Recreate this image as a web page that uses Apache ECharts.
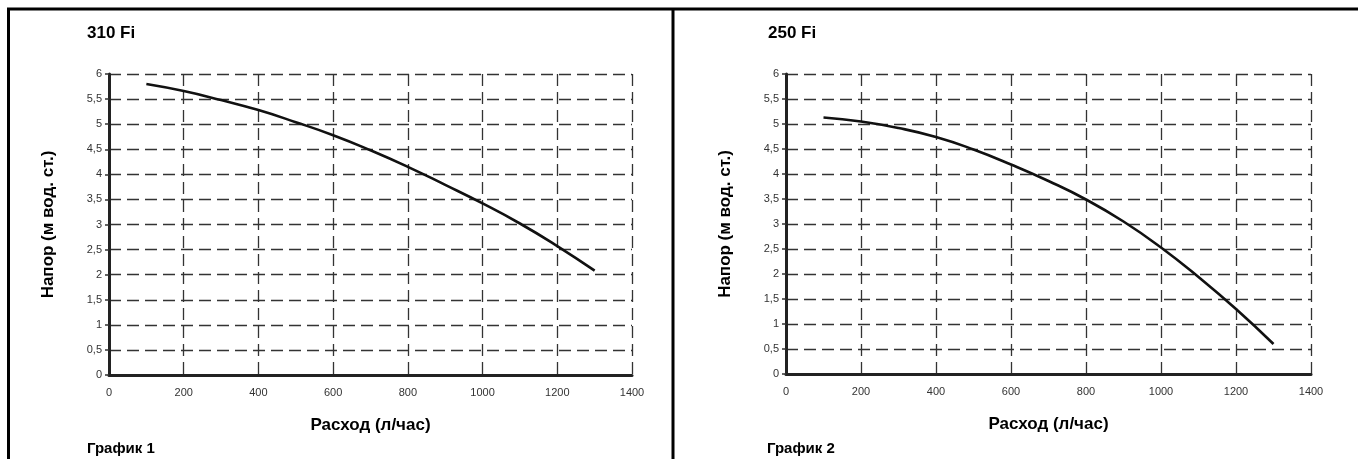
<!DOCTYPE html>
<html>
<head>
<meta charset="utf-8">
<script src="https://cdn.jsdelivr.net/npm/echarts@6/dist/echarts.min.js"></script>
<style>
  html, body { margin: 0; padding: 0; background: #fff; }
  #chart { width: 1358px; height: 459px; }
</style>
</head>
<body>
<div id="chart"></div>
<script>
// расход, л/час
var flow = [100, 200, 300, 400, 500, 600, 700, 800, 900, 1000, 1100, 1200, 1300]
// напор, м вод. ст.
var head310 = [5.8, 5.66, 5.48, 5.28, 5.04, 4.78, 4.48, 4.15, 3.79, 3.42, 3.02, 2.57, 2.08]
var head250 = [5.13, 5.05, 4.92, 4.74, 4.49, 4.19, 3.86, 3.49, 3.05, 2.53, 1.94, 1.3, 0.6]

var titles = ['310 Fi', '250 Fi']
var captions = ['График 1', 'График 2']
var xName = 'Расход (л/час)'
var yName = 'Напор (м вод. ст.)'

var FONT = '"Liberation Sans", Arial, sans-serif'

function pairs (xs, ys) {
  return xs.map(function (x, i) { return [x, ys[i]] })
}

function xAxisFor (idx) {
  return {
    type: 'value',
    gridIndex: idx,
    min: 0,
    max: 1400,
    interval: 200,
    name: xName,
    nameLocation: 'middle',
    nameGap: 42,
    nameTextStyle: { fontFamily: FONT, fontWeight: 'bold', fontSize: 17, color: '#000' },
    axisLine: { lineStyle: { color: '#222', width: 3 } },
    axisTick: { show: false },
    axisLabel: {
      fontFamily: FONT,
      fontSize: 11,
      color: '#333',
      margin: 12,
      formatter: function (v) { return String(v) }
    },
    splitLine: { lineStyle: { color: '#333', width: 1.3, type: [12, 6] } }
  }
}

function yAxisFor (idx) {
  return {
    type: 'value',
    gridIndex: idx,
    min: 0,
    max: 6,
    interval: 0.5,
    name: yName,
    nameLocation: 'middle',
    nameGap: 52,
    nameTextStyle: { fontFamily: FONT, fontWeight: 'bold', fontSize: 17, color: '#000' },
    axisLine: { lineStyle: { color: '#222', width: 3 } },
    axisTick: { show: true, length: 4, lineStyle: { color: '#333', width: 1.5 } },
    axisLabel: {
      fontFamily: FONT,
      fontSize: 11,
      color: '#333',
      margin: 7,
      formatter: function (v) { return String(v).replace('.', ',') }
    },
    splitLine: { lineStyle: { color: '#333', width: 1.3, type: [12, 6] } }
  }
}

function curve (idx, ys) {
  return {
    type: 'line',
    xAxisIndex: idx,
    yAxisIndex: idx,
    data: pairs(flow, ys),
    smooth: true,
    showSymbol: false,
    lineStyle: { color: '#111', width: 2.6 }
  }
}

var chart = echarts.init(document.getElementById('chart'))
chart.setOption({
  backgroundColor: '#fff',
  animation: false,
  title: [
    { text: titles[0], left: 82, top: 20, textStyle: { fontFamily: FONT, fontWeight: 'bold', fontSize: 17, color: '#000' } },
    { text: titles[1], left: 763, top: 20, textStyle: { fontFamily: FONT, fontWeight: 'bold', fontSize: 17, color: '#000' } },
    { text: captions[0], left: 82, top: 436, textStyle: { fontFamily: FONT, fontWeight: 'bold', fontSize: 15, color: '#000' } },
    { text: captions[1], left: 762, top: 436, textStyle: { fontFamily: FONT, fontWeight: 'bold', fontSize: 15, color: '#000' } }
  ],
  grid: [
    { left: 109, top: 74, width: 523, height: 301 },
    { left: 786, top: 74, width: 525, height: 300 }
  ],
  xAxis: [xAxisFor(0), xAxisFor(1)],
  yAxis: [yAxisFor(0), yAxisFor(1)],
  series: [curve(0, head310), curve(1, head250)],
  graphic: [
    // рамка таблицы
    { type: 'line', shape: { x1: 7, y1: 9, x2: 1358, y2: 9 }, style: { stroke: '#000', lineWidth: 3 } },
    { type: 'line', shape: { x1: 8.5, y1: 8, x2: 8.5, y2: 459 }, style: { stroke: '#000', lineWidth: 3 } },
    { type: 'line', shape: { x1: 673, y1: 8, x2: 673, y2: 459 }, style: { stroke: '#000', lineWidth: 3 } }
  ]
})
</script>
</body>
</html>
